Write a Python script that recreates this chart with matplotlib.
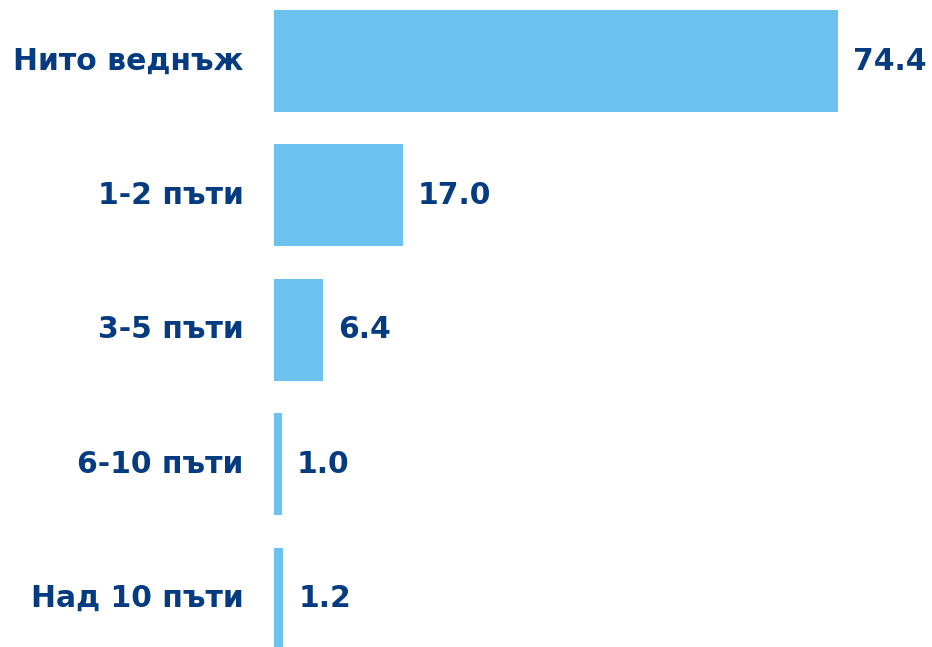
import matplotlib
matplotlib.use("Agg")
import matplotlib.pyplot as plt

categories = ["Нито веднъж", "1-2 пъти", "3-5 пъти", "6-10 пъти", "Над 10 пъти"]
values = [74.4, 17.0, 6.4, 1.0, 1.2]

bar_color = "#6CC1EE"
text_color = "#053B80"

plt.rcParams['font.family'] = ['DejaVu Sans']

fig = plt.figure(figsize=(9.32, 6.47), dpi=100)
ax = fig.add_axes([274 / 932, 0, 1 - 274 / 932, 1])

pos = list(range(len(categories)))
ax.barh(pos, values, height=0.76, color=bar_color)

# value labels to the right of each bar
for p, v in zip(pos, values):
    ax.text(v + 2.0, p, "{:.1f}".format(v), va="center", ha="left",
            fontsize=21.5, fontweight="bold", color=text_color)

# category labels on the left
for p, c in zip(pos, categories):
    ax.text(-4.0, p, c, va="center", ha="right",
            fontsize=21.5, fontweight="bold", color=text_color, clip_on=False)

ax.set_xlim(0, 86.8)
ax.set_ylim(4.36, -0.454)
ax.axis("off")

fig.savefig("out.png", dpi=100)
